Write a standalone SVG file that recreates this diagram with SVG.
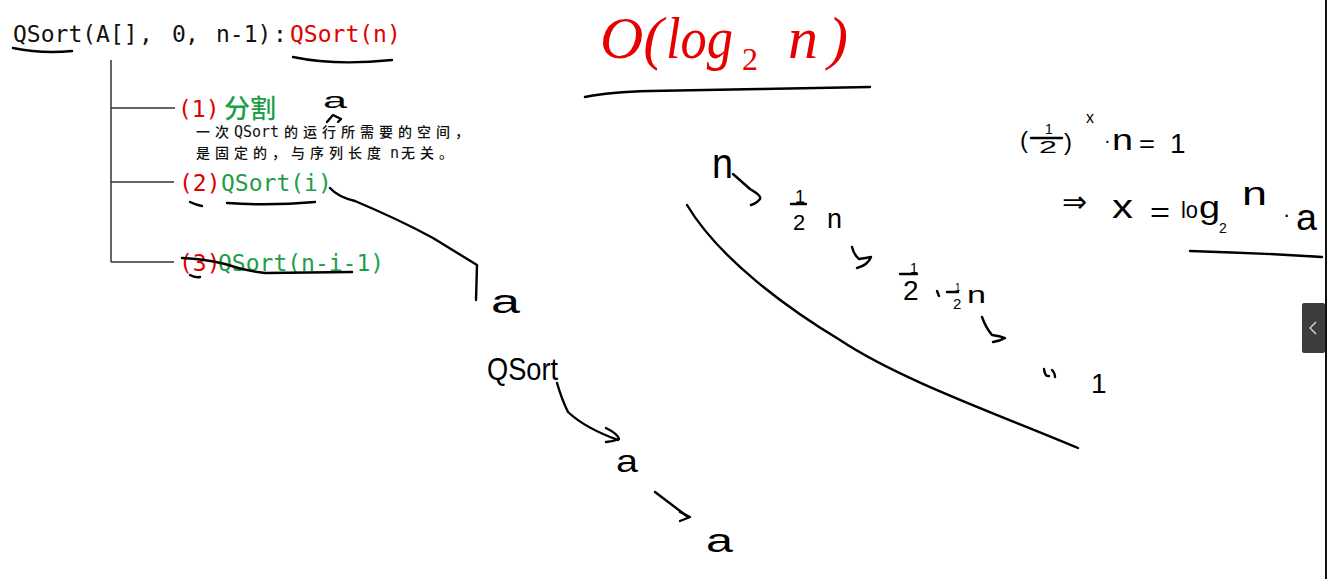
<svg xmlns="http://www.w3.org/2000/svg" width="1327" height="579" viewBox="0 0 1327 579">
<style>
.m{font-family:"DejaVu Sans Mono","Liberation Mono",monospace;font-size:23px}
.sm{font-family:"DejaVu Sans Mono","Liberation Mono",monospace;font-size:15px}
.cn{font-family:"Noto Sans CJK SC","Noto Sans",sans-serif}
.red{fill:#e00000}
.grn{fill:#1e9e48}
.blk{fill:#111}
.ln{stroke:#333;stroke-width:1.5;fill:none}
.hw{stroke:#000;stroke-width:2.4;fill:none;stroke-linecap:round;stroke-linejoin:round}
.ht{font-family:"Liberation Sans","DejaVu Sans",sans-serif;fill:#000}
</style>
<rect width="1327" height="579" fill="#fff"/>

<g id="root">
  <text class="m blk" y="42"><tspan x="13">QSort(A[]</tspan><tspan x="139">,</tspan><tspan x="172">0</tspan><tspan x="185">,</tspan><tspan x="216">n-1)</tspan><tspan x="273">:</tspan></text>
  <text class="m red" x="290" y="42">QSort(n)</text>
</g>

<g id="connectors">
  <path class="ln" d="M111,60 V262 M111,108 H175 M111,182 H174 M111,262 H174"/>
</g>

<g id="step1">
  <text class="m red" x="178" y="117">(1)</text>
  <text class="cn grn" x="224" y="118" font-size="26" font-weight="500">分割</text>
  <text class="cn blk" y="137" font-size="14" font-weight="500"><tspan x="196" letter-spacing="5">一次</tspan><tspan class="sm" x="234">QSort</tspan><tspan x="284" letter-spacing="5">的运行所需要的空间，</tspan></text>
  <text class="cn blk" y="157.5" font-size="14" font-weight="500"><tspan x="196" letter-spacing="5">是固定的，与序列长度</tspan><tspan class="sm" x="390">n</tspan><tspan x="401" letter-spacing="5">无关。</tspan></text>
</g>

<g id="step2">
  <text class="m red" x="179" y="191">(2)</text>
  <text class="m grn" x="221" y="191">QSort(i)</text>
</g>

<g id="step3">
  <text class="m red" x="179" y="271">(3)</text>
  <text class="m grn" x="218" y="271">QSort(n-i-1)</text>
</g>

<g id="title">
  <text font-family="'Liberation Serif','DejaVu Serif',serif" font-style="italic" font-size="60" fill="#e60000" y="58"><tspan x="600">O(</tspan><tspan x="666" textLength="67" lengthAdjust="spacingAndGlyphs">log</tspan><tspan x="742" y="70" font-style="normal" font-size="32">2</tspan><tspan x="788" y="58">n</tspan><tspan x="828">)</tspan></text>
</g>

<g id="handwriting">
  <path class="hw" d="M13,48 Q42,54 72,51"/>
  <path class="hw" d="M293,57 Q335,66 392,60"/>
  <path class="hw" d="M190,202 Q196,205 202,206"/>
  <path class="hw" d="M227,203 Q270,206 315,202"/>
  <path class="hw" d="M182,258 Q205,259 225,264 Q245,271 265,273 L352,272"/>
  <path class="hw" d="M190,275 Q195,278 200,277"/>
  <path class="hw" d="M327,122 L333,115 L341,119 L338,122"/>
  <path class="hw" d="M330,188 Q338,197 355,201 Q400,220 433,238 L477,265 L476,300"/>
  <path class="hw" d="M585,97 Q610,92 650,91 Q700,90 760,89 Q820,88 870,87"/>
  <path class="hw" d="M1190,251 Q1260,253 1322,257"/>
  <path class="hw" d="M557,383 Q562,400 568,412 Q585,428 618,440"/>
  <path class="hw" d="M606,428 Q618,434 619,439 Q612,442 606,442"/>
  <path class="hw" d="M655,492 L688,517"/>
  <path class="hw" d="M680,512 L690,517 L680,521"/>
  <path class="hw" d="M733,174 L750,189 Q762,196 760,199 Q757,203 751,205"/>
  <path class="hw" d="M852,247 Q854,255 859,259 Q866,258 871,257 Q868,265 857,268"/>
  <path class="hw" d="M982,317 Q986,328 992,335 Q1000,336 1005,338 Q1000,341 993,342"/>
  <path class="hw" d="M687,205 C720,260 790,310 840,340 C900,380 1000,415 1078,448"/>
  <path class="hw" d="M791,204 H806"/>
  <path class="hw" d="M900,274 H917"/>
  <path class="hw" d="M937,291 L939,296"/>
  <path class="hw" d="M947,292 H958"/>
  <path class="hw" d="M1044,369 Q1045,377 1049,376 M1052,370 Q1055,373 1055,377"/>
  <path class="hw" d="M1031,138 H1062"/>

  <text class="ht" x="323" y="108" font-size="22" textLength="24" lengthAdjust="spacingAndGlyphs">a</text>
  <text class="ht" x="491" y="313" font-size="34" textLength="29" lengthAdjust="spacingAndGlyphs">a</text>
  <text class="ht" x="487" y="380" font-size="32" textLength="71" lengthAdjust="spacingAndGlyphs">QSort</text>
  <text class="ht" x="616" y="472" font-size="32" textLength="22" lengthAdjust="spacingAndGlyphs">a</text>
  <text class="ht" x="706" y="552" font-size="34" textLength="27" lengthAdjust="spacingAndGlyphs">a</text>

  <text class="ht" x="712" y="178" font-size="42" textLength="21" lengthAdjust="spacingAndGlyphs">n</text>
  <text class="ht" x="795" y="203" font-size="18">1</text>
  <text class="ht" x="793" y="230" font-size="22">2</text>
  <text class="ht" x="827" y="228" font-size="28" textLength="15" lengthAdjust="spacingAndGlyphs">n</text>
  <text class="ht" x="910" y="273" font-size="14">1</text>
  <text class="ht" x="903" y="300" font-size="28">2</text>
  <text class="ht" x="955" y="291" font-size="10">1</text>
  <text class="ht" x="953" y="309" font-size="15">2</text>
  <text class="ht" x="967" y="303" font-size="24" textLength="19" lengthAdjust="spacingAndGlyphs">n</text>
  <text class="ht" x="1091" y="393" font-size="28">1</text>

  <text class="ht" x="1020" y="148" font-size="24">(</text>
  <text class="ht" x="1045" y="134" font-size="14">1</text>
  <text class="ht" x="1039" y="153" font-size="16" textLength="18" lengthAdjust="spacingAndGlyphs">2</text>
  <text class="ht" x="1064" y="150" font-size="24">)</text>
  <text class="ht" x="1086" y="123" font-size="16">x</text>
  <text class="ht" x="1104" y="147" font-size="20">·</text>
  <text class="ht" x="1112" y="150" font-size="30" textLength="21" lengthAdjust="spacingAndGlyphs">n</text>
  <text class="ht" x="1139" y="152" font-size="24" textLength="16" lengthAdjust="spacingAndGlyphs">=</text>
  <text class="ht" x="1170" y="153" font-size="28">1</text>

  <text class="ht" x="1062" y="212" font-size="30">⇒</text>
  <text class="ht" x="1112" y="218" font-size="34" textLength="21" lengthAdjust="spacingAndGlyphs">x</text>
  <text class="ht" x="1150" y="222" font-size="28" textLength="20" lengthAdjust="spacingAndGlyphs">=</text>
  <text class="ht" x="1181" y="218" font-size="24" textLength="17" lengthAdjust="spacingAndGlyphs">lo</text>
  <text class="ht" x="1199" y="218" font-size="32" textLength="21" lengthAdjust="spacingAndGlyphs">g</text>
  <text class="ht" x="1219" y="233" font-size="14">2</text>
  <text class="ht" x="1242" y="205" font-size="34" textLength="25" lengthAdjust="spacingAndGlyphs">n</text>
  <text class="ht" x="1283" y="222" font-size="22">·</text>
  <text class="ht" x="1296" y="230" font-size="36" textLength="21" lengthAdjust="spacingAndGlyphs">a</text>
</g>

<g id="ui">
  <rect x="1325" y="0" width="2" height="579" fill="#111"/>
  <rect x="1302" y="303" width="23" height="50" rx="2" fill="#3d3d3d"/>
  <polyline points="1316,322 1310,328 1316,334" fill="none" stroke="#ddd" stroke-width="1.3"/>
</g>
</svg>
